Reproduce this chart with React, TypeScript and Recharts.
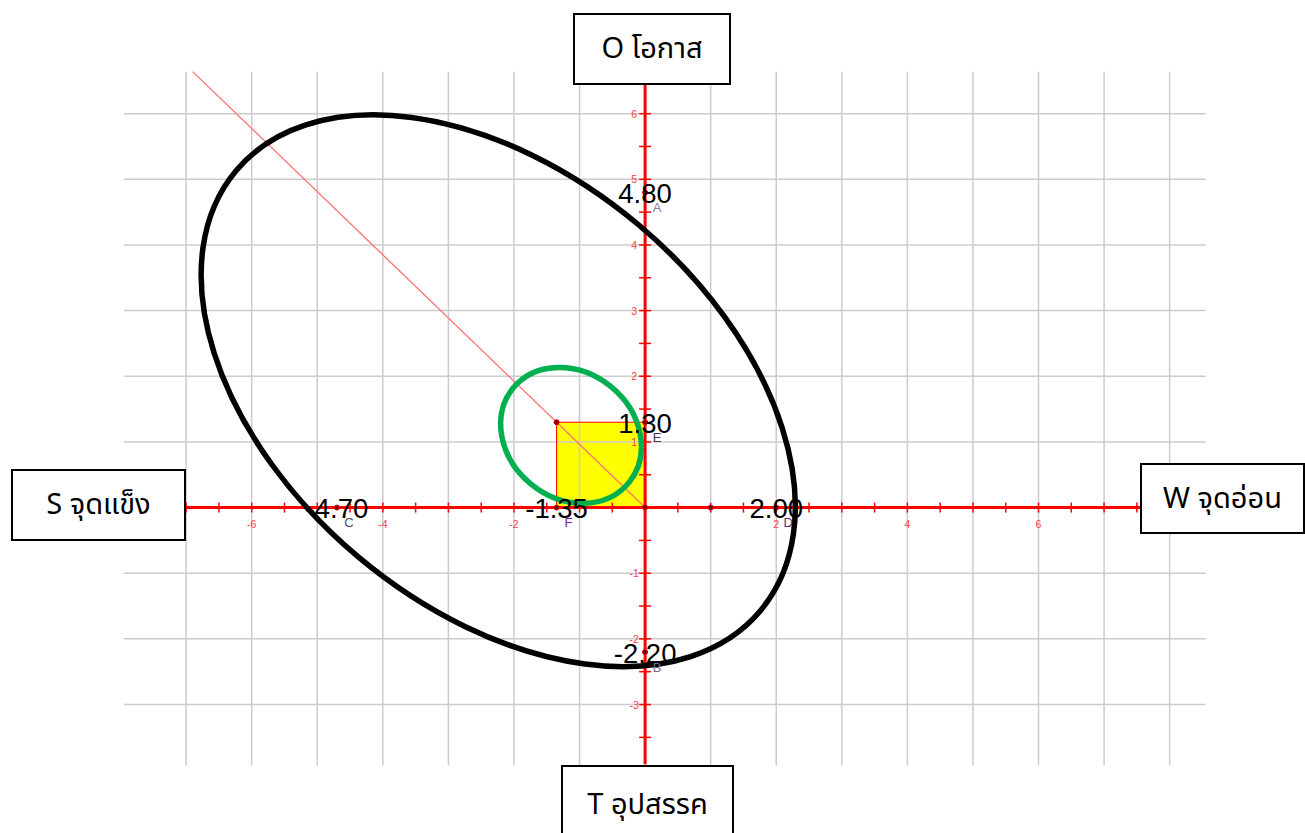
import React from "react";
import {
  ScatterChart,
  XAxis,
  YAxis,
  Scatter,
  ReferenceLine,
  ReferenceArea
} from "recharts";

// grid lines (unit spacing) and the ranges they run across
const gridXs = [-7, -6, -5, -4, -3, -2, -1, 0, 1, 2, 3, 4, 5, 6, 7, 8];
const gridYs = [-3, -2, -1, 0, 1, 2, 3, 4, 5, 6];
const gridXSpan = [-7.95, 8.55];
const gridYSpan = [-3.93, 6.64];

// red axes
const axisXSpan = [-7.0, 7.55];
const axisYSpan = [-3.91, 6.44];

const xTickMarks = [
  -7, -6.5, -6, -5.5, -5, -4.5, -4, -3.5, -3, -2.5, -2, -1.5, -1, -0.5,
  0.5, 1, 1.5, 2, 2.5, 3, 3.5, 4, 4.5, 5, 5.5, 6, 6.5, 7, 7.5
];
const yTickMarks = [
  -3.5, -3, -2.5, -2, -1.5, -1, -0.5, 0.5, 1, 1.5, 2, 2.5, 3, 3.5, 4, 4.5,
  5, 5.5, 6
];
const xTickLabels = [-6, -4, -2, 2, 4, 6];
const yTickLabels = [-3, -2, -1, 1, 2, 3, 4, 5, 6];

// named points
const pointNames = ["A", "B", "C", "D", "E", "F"];
const pointX = [0, 0, -4.7, 2.0, 0, -1.35];
const pointY = [4.8, -2.2, 0, 0, 1.3, 0];
const pointValues = ["4.80", "-2.20", "-4.70", "2.00", "1.30", "-1.35"];
const pointNameColors = ["#8080a8", "#6a6a90", "#3c4a72", "#4b2a7a", "#3a3a5a", "#7a1a8a"];

// other dots
const extraX = [-1.35, 0, 1];
const extraY = [1.3, 0, 0];

// yellow square and the diagonal through its corner
const squareX = [-1.35, 0];
const squareY = [0, 1.3];
const diagonalX = [0, -6.9];
const diagonalY = [0, 6.64];

// ellipses: centre x, centre y, semi axis a, semi axis b, rotation (deg, clockwise)
const bigEllipse = [-2.24, 1.78, 5.22, 3.31, 40];
const smallEllipse = [-1.13, 1.1, 1.14, 0.96, 39];

const boxes = [
  { text: "O โอกาส", left: 573, top: 13, width: 158, height: 72 },
  { text: "S จุดแข็ง", left: 11, top: 469, width: 175, height: 72 },
  { text: "W จุดอ่อน", left: 1140, top: 463, width: 165, height: 71 },
  { text: "T อุปสรรค", left: 561, top: 765, width: 173, height: 80 }
];

const thaiFont = "'Noto Sans Thai', 'Leelawadee UI', Tahoma, 'Noto Sans', 'DejaVu Sans', sans-serif";

const ellipseShape = (e: number[], color: string) => (p: any) => {
  const cx = p.x + p.width / 2;
  const cy = p.y + p.height / 2;
  return (
    <ellipse
      cx={cx}
      cy={cy}
      rx={Math.abs(p.width) / 2}
      ry={Math.abs(p.height) / 2}
      transform={`rotate(${e[4]} ${cx} ${cy})`}
      fill="none"
      stroke={color}
      strokeWidth={5.5}
    />
  );
};

const XTick = (p: any) => (
  <line x1={p.cx} y1={p.cy - 5} x2={p.cx} y2={p.cy + 5} stroke="#ff0000" strokeWidth={1.5} />
);
const YTick = (p: any) => (
  <line x1={p.cx - 6} y1={p.cy} x2={p.cx + 6} y2={p.cy} stroke="#ff0000" strokeWidth={1.5} />
);
const XTickText = (p: any) => (
  <text x={p.cx} y={p.cy + 16} textAnchor="middle" dominantBaseline="central"
    fontSize={10.5} fill="#ff4040" fontFamily="'Liberation Sans', Arial">{p.payload.label}</text>
);
const YTickText = (p: any) => (
  <text x={p.cx - 11} y={p.cy} textAnchor="middle" dominantBaseline="central"
    fontSize={10.5} fill="#ff4040" fontFamily="'Liberation Sans', Arial">{p.payload.label}</text>
);
const Dot = (p: any) => (
  <circle cx={p.cx} cy={p.cy} r={2.5} fill="#800000" stroke="#d00000" strokeWidth={1} />
);
const ValueText = (p: any) => (
  <g>
    <text x={p.cx} y={p.cy + 1} textAnchor="middle" dominantBaseline="central"
      fontSize={27.5} fill="#000" fontFamily="'Liberation Sans', Arial">{p.payload.value}</text>
    <text x={p.cx + 12} y={p.cy + 15} textAnchor="middle" dominantBaseline="central"
      fontSize={13} fill={p.payload.color} fontFamily="'Liberation Sans', Arial">{p.payload.name}</text>
  </g>
);

export default function App() {
  const xTickData = xTickMarks.map((v) => ({ x: v, y: 0 }));
  const yTickData = yTickMarks.map((v) => ({ x: 0, y: v }));
  const xLabelData = xTickLabels.map((v) => ({ x: v, y: 0, label: String(v) }));
  const yLabelData = yTickLabels.map((v) => ({ x: 0, y: v, label: String(v) }));
  const namedData = pointNames.map((n, i) => ({
    x: pointX[i], y: pointY[i], name: n, value: pointValues[i], color: pointNameColors[i]
  }));
  const dotData = [
    ...extraX.map((x, i) => ({ x, y: extraY[i] })),
    ...pointX.map((x, i) => ({ x, y: pointY[i] }))
  ];

  return (
    <div style={{ position: "absolute", left: 0, top: 0, width: 1305, height: 833, overflow: "hidden", background: "#fff" }}>
      <ScatterChart width={1305} height={833} margin={{ top: 48, right: 37, bottom: 30, left: 55 }}>
        <XAxis type="number" dataKey="x" domain={[-9, 9.5]} hide allowDataOverflow />
        <YAxis type="number" dataKey="y" domain={[-4.5, 7]} hide allowDataOverflow />

        <ReferenceArea x1={squareX[0]} x2={squareX[1]} y1={squareY[0]} y2={squareY[1]}
          fill="#ffff00" fillOpacity={1} stroke="none" ifOverflow="visible" zIndex={10} />

        {gridXs.map((v) => (
          <ReferenceLine key={"gx" + v} segment={[{ x: v, y: gridYSpan[0] }, { x: v, y: gridYSpan[1] }]}
            stroke="#cccccc" strokeWidth={1.5} ifOverflow="visible" zIndex={20} />
        ))}
        {gridYs.map((v) => (
          <ReferenceLine key={"gy" + v} segment={[{ x: gridXSpan[0], y: v }, { x: gridXSpan[1], y: v }]}
            stroke="#cccccc" strokeWidth={1.5} ifOverflow="visible" zIndex={20} />
        ))}

        <ReferenceArea x1={squareX[0]} x2={squareX[1]} y1={squareY[0]} y2={squareY[1]}
          fill="none" stroke="#ff0000" strokeWidth={1} ifOverflow="visible" zIndex={25} />

        <ReferenceLine segment={[{ x: diagonalX[0], y: diagonalY[0] }, { x: diagonalX[1], y: diagonalY[1] }]}
          stroke="#ff7070" strokeWidth={1.3} ifOverflow="visible" zIndex={30} />

        <ReferenceLine segment={[{ x: axisXSpan[0], y: 0 }, { x: axisXSpan[1], y: 0 }]}
          stroke="#ff0000" strokeWidth={3} ifOverflow="visible" zIndex={40} />
        <ReferenceLine segment={[{ x: 0, y: axisYSpan[0] }, { x: 0, y: axisYSpan[1] }]}
          stroke="#ff0000" strokeWidth={3} ifOverflow="visible" zIndex={40} />

        <Scatter data={xTickData} shape={XTick} isAnimationActive={false} zIndex={50} />
        <Scatter data={yTickData} shape={YTick} isAnimationActive={false} zIndex={50} />
        <Scatter data={xLabelData} shape={XTickText} isAnimationActive={false} zIndex={50} />
        <Scatter data={yLabelData} shape={YTickText} isAnimationActive={false} zIndex={50} />

        <ReferenceArea
          x1={bigEllipse[0] - bigEllipse[2]} x2={bigEllipse[0] + bigEllipse[2]}
          y1={bigEllipse[1] - bigEllipse[3]} y2={bigEllipse[1] + bigEllipse[3]}
          shape={ellipseShape(bigEllipse, "#000000")} ifOverflow="visible" zIndex={60} />
        <ReferenceArea
          x1={smallEllipse[0] - smallEllipse[2]} x2={smallEllipse[0] + smallEllipse[2]}
          y1={smallEllipse[1] - smallEllipse[3]} y2={smallEllipse[1] + smallEllipse[3]}
          shape={ellipseShape(smallEllipse, "#00b050")} ifOverflow="visible" zIndex={70} />

        <Scatter data={dotData} shape={Dot} isAnimationActive={false} zIndex={80} />
        <Scatter data={namedData} shape={ValueText} isAnimationActive={false} zIndex={90} />
      </ScatterChart>

      {boxes.map((b) => (
        <div key={b.text} style={{
          position: "absolute", left: b.left, top: b.top, width: b.width, height: b.height,
          boxSizing: "border-box", border: "2px solid #000", background: "#fff",
          display: "flex", alignItems: "center", justifyContent: "center",
          fontFamily: thaiFont, fontSize: 29, color: "#000", whiteSpace: "nowrap"
        }}>{b.text}</div>
      ))}
    </div>
  );
}
